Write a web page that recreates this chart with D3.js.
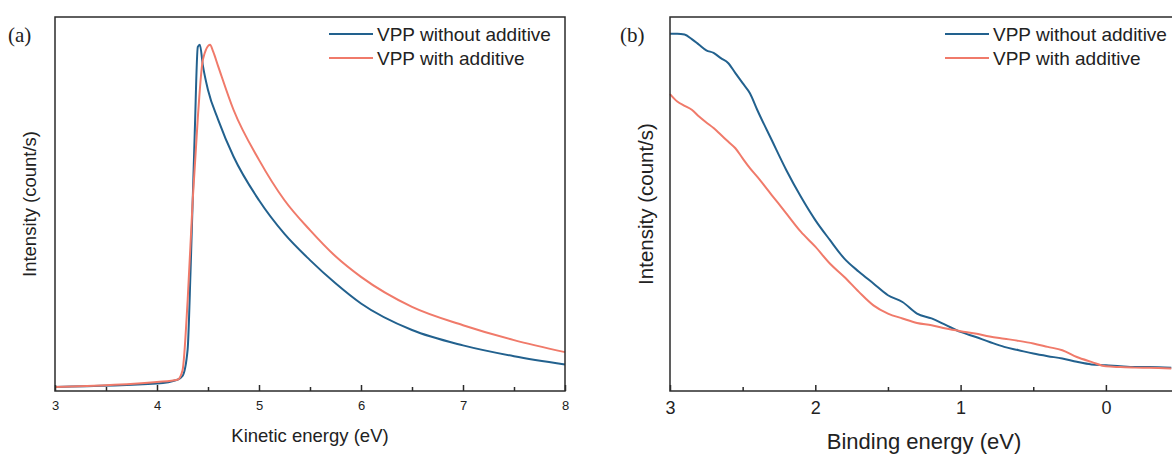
<!DOCTYPE html>
<html><head><meta charset="utf-8">
<script src="https://cdn.jsdelivr.net/npm/d3@7"></script>
<style>body{margin:0;background:#fff}svg{display:block}</style>
</head><body>
<svg id="c" width="1172" height="454"></svg>
<script>
// ---- Data ----
const seriesNames = ["VPP without additive", "VPP with additive"];
const seriesColors = ["#22618e", "#f07a6a"];

// Panel (a): kinetic energy (eV) vs intensity (arb.)
const kinX_blue = [3.0, 4.0, 4.2, 4.25, 4.3, 4.33, 4.37, 4.4, 4.42, 4.45, 4.5, 4.6, 4.75, 5.0, 5.25, 5.5, 5.75, 6.0, 6.5, 7.0, 7.5, 8.0];
const kinY_blue = [0.011, 0.02, 0.03, 0.04, 0.11, 0.33, 0.69, 0.92, 0.926, 0.87, 0.805, 0.725, 0.627, 0.51, 0.42, 0.35, 0.288, 0.234, 0.163, 0.122, 0.093, 0.071];
const kinX_red = [3.0, 4.0, 4.2, 4.25, 4.3, 4.35, 4.4, 4.45, 4.52, 4.55, 4.6, 4.75, 5.0, 5.25, 5.5, 5.75, 6.0, 6.5, 7.0, 7.5, 8.0];
const kinY_red = [0.011, 0.024, 0.03, 0.055, 0.24, 0.51, 0.73, 0.886, 0.926, 0.908, 0.868, 0.752, 0.618, 0.51, 0.43, 0.36, 0.305, 0.225, 0.176, 0.136, 0.104];

// Panel (b): binding energy (eV) vs intensity (arb.)
const bindX = [3.0, 2.95, 2.9, 2.85, 2.8, 2.75, 2.7, 2.65, 2.6, 2.55, 2.5, 2.45, 2.4, 2.3, 2.2, 2.1, 2.0, 1.9, 1.8, 1.7, 1.6, 1.5, 1.4, 1.3, 1.2, 1.1, 1.0, 0.9, 0.8, 0.7, 0.6, 0.5, 0.4, 0.3, 0.2, 0.1, 0.0, -0.1, -0.2, -0.3, -0.45];
const bindY_blue = [0.955, 0.955, 0.953, 0.941, 0.926, 0.911, 0.904, 0.89, 0.877, 0.85, 0.823, 0.796, 0.752, 0.671, 0.591, 0.52, 0.457, 0.404, 0.354, 0.319, 0.2875, 0.256, 0.238, 0.207, 0.194, 0.176, 0.158, 0.145, 0.131, 0.118, 0.109, 0.1, 0.093, 0.087, 0.078, 0.071, 0.069, 0.066, 0.064, 0.064, 0.062];
const bindY_red = [0.794, 0.774, 0.7625, 0.752, 0.734, 0.718, 0.703, 0.685, 0.667, 0.649, 0.622, 0.596, 0.573, 0.524, 0.475, 0.426, 0.386, 0.341, 0.305, 0.265, 0.229, 0.207, 0.194, 0.182, 0.176, 0.167, 0.16, 0.154, 0.146, 0.14, 0.134, 0.127, 0.118, 0.109, 0.091, 0.078, 0.066, 0.064, 0.0625, 0.062, 0.06];

const kinTicks = [3, 4, 5, 6, 7, 8];
const kinMinor = [3.5, 4.5, 5.5, 6.5, 7.5];
const bindTicks = [3, 2, 1, 0];
const bindMinor = [2.5, 1.5, 0.5];

// ---- Drawing ----
const svg = d3.select("#c");
const FONT = "'Liberation Sans', Arial, sans-serif";

function panel(opt) {
  const {left, right, top, bottom, xDomain, majors, minors, series, label, xTitle, tickSize, titleSize, legendX, legendSize, yTitleX, yTitleSize, labelX} = opt;
  const x = d3.scaleLinear().domain(xDomain).range([left, right]);
  const y = d3.scaleLinear().domain([0, 1]).range([bottom, top]);
  const g = svg.append("g");

  // lines
  const line = d3.line().x(d => x(d[0])).y(d => y(d[1])).curve(d3.curveMonotoneX);
  series.forEach((s, i) => {
    g.append("path").datum(d3.zip(s.xs, s.ys))
      .attr("fill", "none").attr("stroke", seriesColors[i]).attr("stroke-width", 2)
      .attr("d", line);
  });

  // frame
  g.append("rect").attr("x", left).attr("y", top).attr("width", right - left).attr("height", bottom - top)
    .attr("fill", "none").attr("stroke", "#2b2b2b").attr("stroke-width", 1.5);

  // x axis ticks (inward)
  const ax = d3.axisBottom(x).tickValues(majors).tickSizeInner(-6).tickSizeOuter(0).tickPadding(opt.tickPad).tickFormat(d3.format("d"));
  const axG = g.append("g").attr("transform", `translate(0,${bottom})`).call(ax);
  axG.select(".domain").remove();
  axG.selectAll("line").attr("stroke", "#2b2b2b").attr("stroke-width", 1.5);
  axG.selectAll("text").attr("font-family", FONT).attr("font-size", tickSize).attr("fill", "#222");
  const axm = d3.axisBottom(x).tickValues(minors).tickSizeInner(-4).tickSizeOuter(0).tickFormat("");
  const axmG = g.append("g").attr("transform", `translate(0,${bottom})`).call(axm);
  axmG.select(".domain").remove();
  axmG.selectAll("line").attr("stroke", "#2b2b2b").attr("stroke-width", 1.5);

  // titles
  g.append("text").attr("x", opt.xTitleX).attr("y", opt.xTitleY)
    .attr("text-anchor", "middle").attr("font-family", FONT).attr("font-size", titleSize).attr("fill", "#222").text(xTitle);
  g.append("text").attr("transform", `translate(${yTitleX},${(top + bottom) / 2}) rotate(-90)`)
    .attr("text-anchor", "middle").attr("font-family", FONT).attr("font-size", yTitleSize).attr("fill", "#222").text("Intensity (count/s)");
  g.append("text").attr("x", labelX).attr("y", 42).attr("font-family", "'Liberation Serif', 'Times New Roman', serif")
    .attr("font-size", 21).attr("fill", "#222").text(label);

  // legend
  series.forEach((s, i) => {
    const ly = 34 + i * 24;
    g.append("line").attr("x1", legendX).attr("x2", legendX + 44).attr("y1", ly).attr("y2", ly)
      .attr("stroke", seriesColors[i]).attr("stroke-width", 2);
    g.append("text").attr("x", legendX + 48).attr("y", ly).attr("dy", "0.35em")
      .attr("font-family", FONT).attr("font-size", legendSize).attr("fill", "#222").text(seriesNames[i]);
  });
}

panel({
  left: 55, right: 565, top: 17, bottom: 391,
  xDomain: [3, 8], majors: kinTicks, minors: kinMinor,
  series: [{xs: kinX_blue, ys: kinY_blue}, {xs: kinX_red, ys: kinY_red}],
  label: "(a)", labelX: 8, xTitle: "Kinetic energy (eV)", xTitleX: 310, xTitleY: 442,
  tickSize: 13, tickPad: 10, titleSize: 18.5, legendX: 329, legendSize: 19, yTitleX: 36, yTitleSize: 18.5
});

panel({
  left: 670, right: 670 + 3.5 * 145.3, top: 17, bottom: 391,
  xDomain: [3, -0.5], majors: bindTicks, minors: bindMinor,
  series: [{xs: bindX, ys: bindY_blue}, {xs: bindX, ys: bindY_red}],
  label: "(b)", labelX: 620, xTitle: "Binding energy (eV)", xTitleX: 924, xTitleY: 449,
  tickSize: 18, tickPad: 10, titleSize: 22, legendX: 945, legendSize: 19, yTitleX: 653, yTitleSize: 20.5
});
</script>
</body></html>
